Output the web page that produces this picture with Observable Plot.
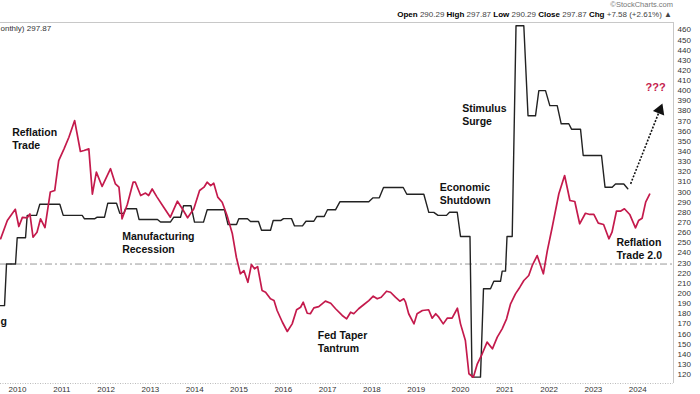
<!DOCTYPE html>
<html><head><meta charset="utf-8">
<script src="https://cdn.jsdelivr.net/npm/d3@7"></script>
<script src="https://cdn.jsdelivr.net/npm/@observablehq/plot@0.6"></script>
<style>
body{margin:0;background:#fff;font-family:"Liberation Sans",Arial,sans-serif;}
#wrap{width:700px;height:394px;position:relative;overflow:hidden;background:#fff;}
#head{position:relative;height:21px;}
.copy{position:absolute;right:27px;top:0px;font-size:7.5px;color:#777;}
.ohlc{position:absolute;right:28px;top:10px;font-size:8px;color:#444;white-space:nowrap;}
.ohlc b{color:#000;}
#chart svg{display:block;}
</style></head><body>
<div id="wrap">
  <div id="head">
    <div class="copy">©StockCharts.com</div>
    <div class="ohlc"><b>Open</b> 290.29 <b>High</b> 297.87 <b>Low</b> 290.29 <b>Close</b> 297.87 <b>Chg</b> +7.58 (+2.61%) ▲</div>
  </div>
  <div id="chart"></div>
</div>
<script>
// ---- Red series (monthly commodity index), decimal-year dates and values ----
const redT = [
  2009.62, 2009.77, 2009.95,
  2010.03, 2010.11, 2010.22, 2010.28, 2010.35, 2010.44, 2010.52, 2010.62, 2010.74, 2010.84, 2010.93,
  2011.05, 2011.16, 2011.29, 2011.42, 2011.50, 2011.61, 2011.69, 2011.78, 2011.91,
  2012.10, 2012.21, 2012.29, 2012.36, 2012.48, 2012.61, 2012.66, 2012.78, 2012.89, 2012.96,
  2013.04, 2013.15, 2013.30, 2013.45, 2013.61, 2013.72, 2013.84, 2013.98,
  2014.11, 2014.21, 2014.28, 2014.36, 2014.43, 2014.52, 2014.62, 2014.73, 2014.85, 2014.94,
  2015.03, 2015.11, 2015.20, 2015.28, 2015.35, 2015.42, 2015.52, 2015.60, 2015.71, 2015.79, 2015.86, 2015.98,
  2016.09, 2016.20, 2016.30, 2016.39, 2016.45, 2016.54, 2016.61, 2016.69, 2016.80, 2016.95,
  2017.07, 2017.18, 2017.33, 2017.43, 2017.52, 2017.59, 2017.70, 2017.82, 2017.93,
  2018.03, 2018.12, 2018.21, 2018.33, 2018.42, 2018.53, 2018.63, 2018.72, 2018.76, 2018.83, 2018.95,
  2019.02, 2019.14, 2019.28, 2019.36, 2019.44, 2019.51, 2019.61, 2019.70, 2019.81, 2019.93,
  2020.00, 2020.11, 2020.19, 2020.29, 2020.38, 2020.49, 2020.60, 2020.72, 2020.83, 2020.94,
  2021.04, 2021.13, 2021.24, 2021.34, 2021.43, 2021.54, 2021.62, 2021.73, 2021.87, 2021.96,
  2022.07, 2022.22, 2022.35, 2022.47, 2022.58, 2022.69, 2022.82, 2022.92,
  2023.01, 2023.11, 2023.23, 2023.35, 2023.42, 2023.52, 2023.61, 2023.70, 2023.82, 2023.95,
  2024.02, 2024.10, 2024.18, 2024.27
];
const redV = [
  254, 272, 283,
  266, 275, 274.6, 278.5, 255.5, 260.4, 273.6, 265, 300, 301.5, 331,
  342.6, 354, 370.5, 340, 341, 342.6, 298, 319.6, 305.5,
  323, 308, 304.8, 273.6, 288, 309.7, 309.7, 296.6, 299, 296.6,
  303, 295, 285, 275.2, 291, 283.5, 274.6, 283.5,
  301.5, 304.8, 309.7, 306.4, 308.7, 295, 290, 276.9, 258.8, 235.7,
  219.4, 222.6, 211, 228.5, 224.3, 226.5, 203, 201.2, 194.7, 193, 183.2, 171.6,
  162.5, 170, 183.9, 186.4, 191.4, 180.5, 180, 185.8, 187, 192.4,
  190.4, 184.9, 178.3, 175, 181.5, 180, 184.9, 189.1, 193,
  197.3, 194.7, 196.3, 202.2, 201.2, 196.3, 192.4, 194.7, 191.4, 180, 170,
  180, 183.2, 183.9, 175.6, 180, 176.6, 170, 175.6, 175.6, 185.4,
  170, 153.6, 120.8, 117.4, 130.6, 140.5, 152, 145.4, 156.9, 165.1,
  175, 189.8, 199.6, 206.2, 212.8, 217.7, 227.6, 237.4, 219.4, 242.3,
  265.3, 298.3, 316.3, 291.7, 290.7, 268.7, 279.1, 277.9,
  277.9, 269.3, 268, 253.9, 260.4, 281.1, 281.1, 283.5, 277.9, 264.7,
  271.9, 274.2, 290, 297.87
];

// ---- Black stepped series: each level's start date, end date and value ----
const blackStart = [2009.616, 2009.752, 2009.993, 2010.219, 2010.503, 2011.032, 2011.512, 2011.799, 2012.038, 2012.309,
  2012.438, 2012.743, 2013.228, 2013.528, 2013.747, 2013.995, 2014.282, 2014.752, 2014.995, 2015.260,
  2015.508, 2015.772, 2016.005, 2016.253, 2016.512, 2016.756, 2016.998, 2017.280, 2018.025, 2018.262,
  2018.788, 2019.284, 2019.492, 2019.752, 2020.000, 2020.260, 2020.519, 2020.752, 2020.941, 2021.050,
  2021.253, 2021.524, 2021.768, 2022.016, 2022.273, 2022.506, 2022.770, 2023.262, 2023.499, 2023.776];
const blackEnd = [2009.707, 2009.955, 2010.181, 2010.429, 2010.955, 2011.460, 2011.738, 2011.964, 2012.235, 2012.400,
  2012.686, 2013.160, 2013.454, 2013.679, 2013.916, 2014.199, 2014.673, 2014.944, 2015.192, 2015.440,
  2015.711, 2015.948, 2016.185, 2016.433, 2016.689, 2016.923, 2017.178, 2017.930, 2018.167, 2018.707,
  2019.172, 2019.397, 2019.684, 2019.926, 2020.214, 2020.451, 2020.677, 2020.903, 2021.016, 2021.167,
  2021.429, 2021.693, 2021.919, 2022.183, 2022.445, 2022.709, 2023.183, 2023.424, 2023.686, 2023.776];
const blackLevel = [188, 229, 255, 277, 288, 277, 273.6, 275.2, 289, 279,
  283.5, 273, 270.5, 275.2, 286.5, 270.3, 282.5, 268, 273.6, 271,
  262.3, 272, 273.8, 266.6, 271.2, 275.9, 282.5, 290.5, 294.3, 304.5,
  297.8, 280, 277, 280.1, 256.2, 117.5, 204.6, 212, 222, 256.2,
  464, 375.2, 400, 385.2, 367.3, 362, 336, 304.8, 308, 303.2];

// ---- Axis ticks ----
const yearTicks = [2010, 2011, 2012, 2013, 2014, 2015, 2016, 2017, 2018, 2019, 2020, 2021, 2022, 2023, 2024];
const valueTicks = [120,130,140,150,160,170,180,190,200,210,220,230,240,250,260,270,280,290,300,
  310,320,330,340,350,360,370,380,390,400,410,420,430,440,450,460];
const refLevel = 229;

// ---- Annotations ----
const noteText = ["Reflation\nTrade", "Manufacturing\nRecession", "Fed Taper\nTantrum", "Economic\nShutdown",
  "Stimulus\nSurge", "Reflation\nTrade 2.0"];
const noteT = [2009.88, 2012.363, 2016.779, 2019.533, 2020.038, 2023.52];
const noteV = [364.6, 262.1, 164.1, 310.4, 387.6, 255.5];
const arrowFrom = [2023.84, 308.1];
const arrowTo = [2024.50, 381];
const questionPos = [2024.176, 407.3];
const cutLabelPos = [2009.616, 176.3];

const red = "#c41a4c";
const redPts = redT.map((t, i) => ({t, v: redV[i]}));
const blackPts = blackLevel.flatMap((v, i) => [{t: blackStart[i], v}, {t: blackEnd[i], v}]);
const notes = noteText.map((s, i) => ({s, t: noteT[i], v: noteV[i]}));

const xDom = [2009.616, 2024.808];
const yDom = [111.2, 467.2];
const font = "Liberation Sans, Arial, sans-serif";

const chart = Plot.plot({
  width: 700, height: 373,
  marginTop: 1, marginBottom: 11, marginLeft: 0, marginRight: 27,
  style: {fontFamily: font, background: "#fff"},
  x: {type: "linear", domain: xDom},
  y: {domain: yDom},
  marks: [
    Plot.ruleY([yDom[1]], {stroke: "#c8c8c8", strokeWidth: 1}),
    Plot.ruleX([xDom[1]], {stroke: "#c8c8c8", strokeWidth: 1}),
    Plot.ruleY([yDom[0]], {stroke: "#bbb", strokeWidth: 1, strokeDasharray: "1,1.5"}),
    Plot.ruleY([refLevel], {stroke: "#999", strokeWidth: 1, strokeDasharray: "7,3,2,3"}),
    Plot.line(blackPts, {x: "t", y: "v", stroke: "#222", strokeWidth: 1.4, clip: true}),
    Plot.line(redPts, {x: "t", y: "v", stroke: red, strokeWidth: 1.7, clip: true}),
    Plot.axisX({ticks: yearTicks, tickFormat: d => String(d), tickSize: 0, tickPadding: 3, fontSize: 8, fill: "#333", anchor: "bottom", label: null}),
    Plot.axisY({ticks: valueTicks, anchor: "right", tickSize: 0, tickPadding: 4, fontSize: 8, fill: "#333", label: null}),
    Plot.text(notes, {x: "t", y: "v", text: "s", textAnchor: "start", lineAnchor: "top", lineHeight: 1.24,
      fontSize: 10.5, fontWeight: "bold", fill: "#111"}),
    Plot.text(["g"], {x: cutLabelPos[0], y: cutLabelPos[1], textAnchor: "start", lineAnchor: "top",
      fontSize: 10.5, fontWeight: "bold", fill: "#111"}),
    Plot.text(["???"], {x: questionPos[0], y: questionPos[1], textAnchor: "start", lineAnchor: "top",
      fontSize: 11, fontWeight: "bold", fill: red}),
    Plot.link([0], {x1: arrowFrom[0], y1: arrowFrom[1], x2: arrowTo[0], y2: arrowTo[1],
      stroke: "#111", strokeWidth: 1.6, strokeDasharray: "2,1.5"}),
    Plot.dot([0], {x: arrowTo[0], y: arrowTo[1], symbol: "triangle", r: 4.5, fill: "#111", stroke: "none", rotate: 21.6}),
    Plot.text(["onthly) 297.87"], {frameAnchor: "top-left", dx: 0, dy: 3, textAnchor: "start", lineAnchor: "top",
      fontSize: 8, fill: "#333"})
  ]
});
document.getElementById("chart").appendChild(chart);
</script>
</body></html>
